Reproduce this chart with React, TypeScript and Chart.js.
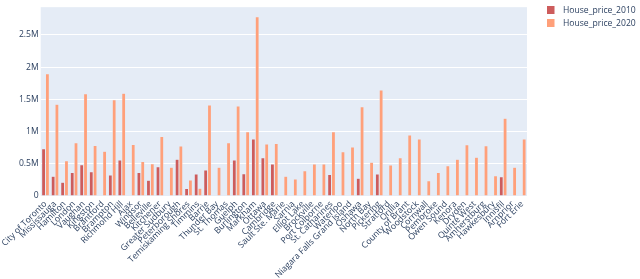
import React, { useEffect, useRef } from "react";
import { Chart, registerables } from "chart.js";

Chart.register(...registerables);

const cities: string[] = [
  "City of Toronto", "Mississauga", "Hamilton", "London", "Vaughan", "Kingston",
  "Brantford", "Brampton", "Richmond Hill", "Ajax", "Windsor", "Belleville",
  "Kitchener", "Greater Sudbury", "Peterborough", "Temiskaming Shores", "Timmins",
  "Barrie", "Thunder Bay", "St. Thomas", "Guelph", "Burlington", "Markham",
  "Ottawa", "Cambridge", "Sault Ste. Marie", "Sarnia", "Elliot Lake", "Brockville",
  "Port Colborne", "St. Catharines", "Waterloo", "Niagara Falls Grand Island",
  "Oshawa", "North Bay", "Pickering", "Stratford", "Orillia", "County of Brant",
  "Woodstock", "Cornwall", "Pembroke", "Owen Sound", "Kenora", "Dryden",
  "Quinte West", "Amherstburg", "Hawkesbury", "Innisfil", "Arnprior", "Fort Erie",
];

const price2010: (number | null)[] = [
  733000, 305000, 215000, 365000, 485000, 375000,
  null, 325000, 560000, null, 365000, 245000,
  455000, null, 570000, 115000, 340000,
  405000, null, null, 560000, 345000, 885000,
  595000, 495000, null, null, null, null,
  null, 335000, null, null,
  275000, null, 340000, null, null, null,
  null, null, null, null, null, null,
  null, null, null, 300000, null, null,
];

const price2020: (number | null)[] = [
  1895000, 1425000, 545000, 825000, 1585000, 785000,
  695000, 1495000, 1595000, 800000, 535000, 500000,
  925000, 445000, 775000, 250000, 120000,
  1410000, 445000, 825000, 1395000, 995000, 2780000,
  805000, 815000, 305000, 265000, 390000, 495000,
  495000, 995000, 685000, 760000,
  1385000, 525000, 1645000, 480000, 595000, 945000,
  885000, 235000, 365000, 470000, 570000, 795000,
  600000, 780000, 315000, 1205000, 445000, 885000,
];

const seriesNames: string[] = ["House_price_2010", "House_price_2020"];
const seriesColors: string[] = ["#CD5C5C", "#FFA07A"];
const yTickValues: number[] = [0, 500000, 1000000, 1500000, 2000000, 2500000];
const yTickLabels: string[] = ["0", "0.5M", "1M", "1.5M", "2M", "2.5M"];

const FONT = "'Open Sans', 'Noto Sans', sans-serif";
const TEXT_COLOR = "#2a3f5f";

const bgPlugin = {
  id: "plotBg",
  beforeDraw(chart: any) {
    const { ctx, chartArea } = chart;
    ctx.save();
    ctx.fillStyle = "#E5ECF6";
    ctx.fillRect(chartArea.left, chartArea.top, chartArea.right - chartArea.left, chartArea.bottom - chartArea.top);
    ctx.restore();
  },
};

const legendPlugin = {
  id: "plotLegend",
  afterDraw(chart: any) {
    const { ctx } = chart;
    ctx.save();
    chart.data.datasets.forEach((ds: any, i: number) => {
      const cy = 10 + i * 13;
      ctx.fillStyle = ds.backgroundColor;
      ctx.fillRect(547, cy - 4, 7.5, 8);
      ctx.fillStyle = TEXT_COLOR;
      ctx.font = `8.6px ${FONT}`;
      ctx.textAlign = "left";
      ctx.textBaseline = "middle";
      ctx.fillText(ds.label, 563, cy + 0.5);
    });
    ctx.restore();
  },
};

export default function App() {
  const ref = useRef<HTMLCanvasElement | null>(null);

  useEffect(() => {
    if (!ref.current) return;
    const chart = new Chart(ref.current, {
      type: "bar",
      data: {
        labels: cities,
        datasets: [
          {
            label: seriesNames[0],
            data: price2010,
            backgroundColor: seriesColors[0],
            borderColor: "#E5ECF6",
            borderWidth: 0.5,
            categoryPercentage: 0.8,
            barPercentage: 1.0,
          },
          {
            label: seriesNames[1],
            data: price2020,
            backgroundColor: seriesColors[1],
            borderColor: "#E5ECF6",
            borderWidth: 0.5,
            categoryPercentage: 0.8,
            barPercentage: 1.0,
          },
        ],
      },
      options: {
        responsive: false,
        animation: false,
        layout: { padding: { left: 0, right: 113, top: 0, bottom: 0 } },
        plugins: {
          legend: { display: false },
          tooltip: { enabled: false },
        },
        scales: {
          x: {
            grid: { display: false, drawTicks: false },
            border: { display: false },
            ticks: {
              autoSkip: false,
              minRotation: 45,
              maxRotation: 45,
              padding: 3,
              color: TEXT_COLOR,
              font: { family: FONT, size: 8.6 },
            },
            afterFit: (scale: any) => {
              scale.height = 83;
            },
          },
          y: {
            min: 0,
            max: 2930000,
            grid: { color: "#ffffff", lineWidth: 1, drawTicks: false },
            border: { display: false },
            afterBuildTicks: (scale: any) => {
              scale.ticks = yTickValues.map((v) => ({ value: v }));
            },
            ticks: {
              padding: 2,
              color: TEXT_COLOR,
              font: { family: FONT, size: 8.6 },
              callback: (v: any) => {
                const idx = yTickValues.indexOf(Number(v));
                return idx >= 0 ? yTickLabels[idx] : "";
              },
            },
            afterFit: (scale: any) => {
              scale.width = 38;
            },
          },
        },
      },
      plugins: [bgPlugin, legendPlugin],
    });
    return () => chart.destroy();
  }, []);

  return (
    <div style={{ position: "fixed", left: 0, top: 0, width: 640, height: 279, background: "#fff" }}>
      <canvas ref={ref} width={640} height={279} style={{ display: "block" }} />
    </div>
  );
}
